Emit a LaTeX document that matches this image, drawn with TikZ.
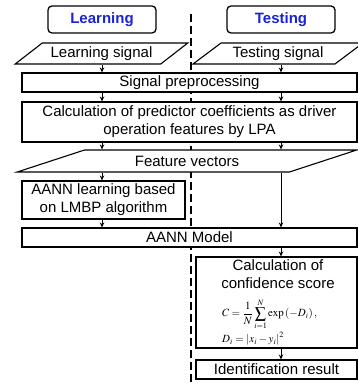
\documentclass[tikz,border=0pt]{standalone}
\usepackage{mathptmx}
\usepackage{fontspec}
\setmainfont{Liberation Sans}
\usetikzlibrary{arrows.meta,shapes.geometric}
\definecolor{headblue}{RGB}{25,35,215}

\begin{document}
\begin{tikzpicture}[
    x=1pt, y=-1pt,
    font=\fontsize{15}{18}\selectfont,
    title/.style={draw, rounded corners=4pt, line width=1.3pt, inner sep=0pt,
        minimum width=108pt, minimum height=27pt,
        font=\fontsize{15}{18}\selectfont\bfseries, text=headblue},
    signal/.style={draw, trapezium, trapezium stretches=true, fill=white,
        line width=1.1pt, inner sep=0pt, minimum height=21pt},
    stage/.style={draw, fill=white, line width=1.1pt, inner sep=0pt, align=center},
    formula/.style={anchor=west, inner sep=0pt, font=\fontsize{11}{13}\selectfont},
    flow/.style={-{Stealth[length=5pt,width=4.5pt]}, line width=0.9pt},
    divide/.style={line width=2pt, dash pattern=on 8pt off 4pt},
]
    \useasboundingbox (0,0) rectangle (358,385);
    \coordinate (dtop) at (191,14);
    \coordinate (dbot) at (191,385);
    \coordinate (colL) at (102,0);
    \coordinate (colR) at (281,0);
    \draw[divide] (dtop) -- (dbot);

    \node[title] (learnhead) at (102,19.5) {Learning};
    \node[title] (testhead) at (281,19.5) {Testing};
    \node[signal, trapezium left angle=31, trapezium right angle=149,
        minimum width=173pt] (learnsig) at (101.5,53.5) {Learning signal};
    \node[signal, trapezium left angle=32, trapezium right angle=148,
        minimum width=170pt] (testsig) at (278,53.5) {Testing signal};
    \node[stage, minimum width=335pt, minimum height=19pt] (prep) at (189.5,82.5)
        {Signal preprocessing};
    \node[stage, minimum width=335pt, minimum height=40pt] (lpa) at (189.5,122)
        {Calculation of predictor coefficients as driver\\operation features by LPA};
    \node[signal, trapezium left angle=17, trapezium right angle=163,
        minimum width=340pt, minimum height=22pt] (feat) at (187,161) {Feature vectors};
    \node[stage, minimum width=163pt, minimum height=38pt] (learn) at (103.5,200)
        {AANN learning based\\on LMBP algorithm};
    \node[stage, minimum width=335pt, minimum height=19pt] (model) at (189.5,237.5)
        {AANN Model};
    \node[stage, minimum width=161pt, minimum height=91pt] (conf) at (276.5,302.5) {};
    \node[align=center, inner sep=0pt] (conftitle) at (278,274) {Calculation of\\confidence score};
    \node[formula] (score) at (222,314)
        {$\displaystyle C=\frac{1}{N}\sum_{i=1}^{N}\exp\left(-D_i\right),$};
    \node[formula] (dist) at (222,339)
        {$D_i=\left|x_i-y_i\right|^2$};
    \node[stage, minimum width=161pt, minimum height=19pt] (ident) at (276.5,369.5)
        {Identification result};

    % connectors
    \draw[flow] (learnsig.south -| colL) -- (prep.north -| colL);
    \draw[flow] (testsig.south -| colR) -- (prep.north -| colR);
    \foreach \c in {colL,colR} {
        \draw[flow] (prep.south -| \c) -- (lpa.north -| \c);
        \draw[flow] (lpa.south -| \c) -- (feat.north -| \c);
    }
    \draw[flow] (feat.south -| colL) -- (learn.north -| colL);
    \draw[flow] (feat.south -| colR) -- (model.north -| colR);
    \draw[flow] (learn.south -| colL) -- (model.north -| colL);
    \draw[flow] (model.south -| colR) -- (conf.north -| colR);
    \draw[flow] (conf.south -| colR) -- (ident.north -| colR);
\end{tikzpicture}
\end{document}
